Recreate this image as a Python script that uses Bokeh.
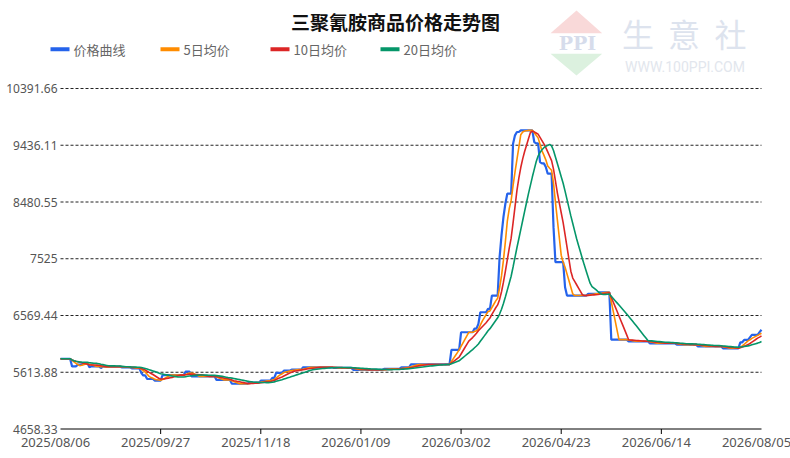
import pandas as pd
from bokeh.plotting import figure
from bokeh.models import Range1d, ColumnDataSource
from bokeh.embed import file_html
from bokeh.resources import INLINE
from bokeh.core.properties import value

# ---------------- data ----------------
title_text = "三聚氰胺商品价格走势图"
start_date = "2025-08-06"
end_date = "2026-08-05"

# price change points (price holds until the next change date)
change_dates = [
    "2025-08-06", "2025-08-12", "2025-08-15", "2025-08-18", "2025-08-21", "2025-08-22",
    "2025-08-27", "2025-08-28", "2025-09-07", "2025-09-12", "2025-09-17", "2025-09-18",
    "2025-09-20", "2025-09-24", "2025-09-28", "2025-10-10", "2025-10-13", "2025-10-26",
    "2025-11-03", "2025-11-12", "2025-11-18", "2025-11-24", "2025-11-26", "2025-11-30",
    "2025-12-04", "2025-12-10", "2025-12-26", "2026-01-05", "2026-01-21", "2026-01-30",
    "2026-02-04", "2026-02-25", "2026-03-02", "2026-03-09", "2026-03-11", "2026-03-12",
    "2026-03-16", "2026-03-18", "2026-03-22", "2026-03-23", "2026-03-24", "2026-03-25",
    "2026-03-26", "2026-03-29", "2026-03-30", "2026-03-31", "2026-04-02", "2026-04-09",
    "2026-04-10", "2026-04-12", "2026-04-13", "2026-04-15", "2026-04-16", "2026-04-19",
    "2026-04-20", "2026-04-25", "2026-04-26", "2026-05-07", "2026-05-13", "2026-05-19",
    "2026-05-28", "2026-06-08", "2026-06-22", "2026-07-03", "2026-07-16", "2026-07-25",
    "2026-07-27", "2026-07-30", "2026-07-31", "2026-08-04", "2026-08-05",
]
change_prices = [
    5840, 5713, 5742, 5767, 5696, 5713,
    5686, 5708, 5696, 5680, 5600, 5560,
    5500, 5472, 5565, 5624, 5545, 5485,
    5420, 5440, 5472, 5520, 5602, 5641,
    5658, 5697, 5686, 5655, 5670, 5697,
    5745, 5990, 6287, 6349, 6428, 6624,
    6681, 6905, 7551, 7917, 8225, 8451,
    8620, 9463, 9603, 9659, 9687, 9490,
    9468, 9153, 9131, 9069, 8957, 8057,
    7467, 7045, 6905, 6934, 6961, 6163,
    6135, 6101, 6079, 6050, 6017, 6118,
    6158, 6202, 6243, 6290, 6330,
]

series_names = ["价格曲线", "5日均价", "10日均价", "20日均价"]
ma_windows = [5, 10, 20]
series_colors = ["#2563eb", "#ff8c00", "#dc2626", "#059669"]

x_tick_labels = ["2025/08/06", "2025/09/27", "2025/11/18", "2026/01/09",
                 "2026/03/02", "2026/04/23", "2026/06/14", "2026/08/05"]
y_ticks = [4658.33, 5613.88, 6569.44, 7525.0, 8480.55, 9436.11, 10391.66]
y_tick_labels = ["4658.33", "5613.88", "6569.44", "7525", "8480.55", "9436.11", "10391.66"]

# ---------------- daily series ----------------
days = pd.date_range(start_date, end_date, freq="D")
price = pd.Series(change_prices, index=pd.to_datetime(change_dates), dtype=float)
price = price.reindex(days).ffill()
src = ColumnDataSource(dict(
    date=days,
    price=price.values,
    ma5=price.rolling(ma_windows[0], min_periods=1).mean().values,
    ma10=price.rolling(ma_windows[1], min_periods=1).mean().values,
    ma20=price.rolling(ma_windows[2], min_periods=1).mean().values,
))


def ms(d):
    return pd.Timestamp(d.replace("/", "-")).value / 1e6


# ---------------- geometry (one canvas, plot area inside it) ----------------
W, H = 790, 458
FL, FR, FT, FB = 60, 761, 88, 428.5          # plot area edges in canvas pixels
t0, t1 = ms(start_date), ms(end_date)
msp = (t1 - t0) / (FR - FL)                   # ms per pixel
upp = (y_ticks[-1] - y_ticks[0]) / (FB - FT)  # price units per pixel


def X(px):
    return t0 + (px - FL) * msp


def Y(py):
    return y_ticks[0] + (FB - py) * upp


FONT = "Noto Sans"
CJK = "Noto Sans CJK SC"

p = figure(width=W, height=H, x_range=Range1d(X(0), X(W)), y_range=Range1d(Y(H), Y(0)),
           x_axis_location=None, y_axis_location=None, min_border=0,
           output_backend="svg", toolbar_location=None)
p.outline_line_color = None
p.grid.visible = False
p.background_fill_color = "white"
p.border_fill_color = "white"

# horizontal dashed grid lines
p.segment(x0=[t0] * (len(y_ticks) - 1), x1=[t1] * (len(y_ticks) - 1),
          y0=y_ticks[1:], y1=y_ticks[1:], line_color="#222222", line_width=1,
          line_dash="3 2")
# y tick labels
p.text(x=[t0] * len(y_ticks), y=y_ticks, text=y_tick_labels, x_offset=-3,
       text_align="right", text_baseline="middle", text_font=value(FONT),
       text_font_size="12px", text_color="#555555")

# x axis line, ticks and labels
tick_ms = [ms(d) for d in x_tick_labels]
p.segment(x0=[t0], x1=[t1], y0=[y_ticks[0]], y1=[y_ticks[0]], line_color="#000000",
          line_width=1)
p.segment(x0=tick_ms[1:-1], x1=tick_ms[1:-1], y0=[y_ticks[0]] * 6,
          y1=[Y(FB + 5)] * 6, line_color="#000000", line_width=1)
p.text(x=tick_ms, y=[Y(441)] * len(tick_ms), text=x_tick_labels, x_offset=-5,
       text_align="center", text_baseline="middle", text_font=value(FONT),
       text_font_size="13px", text_color="#555555")

# series
p.line("date", "price", source=src, color=series_colors[0], line_width=2.2)
p.line("date", "ma5", source=src, color=series_colors[1], line_width=1.6)
p.line("date", "ma10", source=src, color=series_colors[2], line_width=1.6)
p.line("date", "ma20", source=src, color=series_colors[3], line_width=1.6)

# watermark
p.patch([X(550), X(576), X(601.7)], [Y(32.7), Y(10), Y(32.7)], color="#f9d9d9",
        line_color=None)
p.patch([X(550), X(601.7), X(576)], [Y(53.3), Y(53.3), Y(75)], color="#dcf1df",
        line_color=None)
p.text(x=[X(577)], y=[Y(42.5)], text=["PPI"], text_align="center", text_baseline="middle",
       text_font=value("DejaVu Serif"), text_font_style="bold", text_font_size="19px",
       text_color="#d6dceb")
p.text(x=[X(637.5), X(683.5), X(730)], y=[Y(32)] * 3, text=["生", "意", "社"],
       text_align="center", text_baseline="middle", text_font=value(CJK),
       text_font_size="32px", text_color="#dde3ee")
p.text(x=[X(684.5)], y=[Y(66)], text=["WWW.100PPI.COM"], text_align="center",
       text_baseline="middle", text_font=value("Roboto"), text_font_size="14px",
       text_color="#e2e6ed")

# title
p.text(x=[X(395)], y=[Y(20.5)], text=[title_text], text_align="center",
       text_baseline="middle", text_font=value(CJK), text_font_style="bold",
       text_font_size="19px", text_color="#111111")

# legend
leg_px = [50 + 110 * i for i in range(len(series_names))]
leg = ColumnDataSource(dict(
    x=[X(px + 9.5) for px in leg_px],
    tx=[X(px + 23) for px in leg_px],
    y=[Y(48.7)] * len(series_names),
    name=series_names,
    color=series_colors,
))
p.rect(x="x", y="y", width=19 * msp, height=4 * upp, source=leg, fill_color="color",
       line_color=None)
p.text(x="tx", y="y", text="name", source=leg, text_baseline="middle",
       text_font=value(CJK), text_font_size="13px", text_color="#666666")

open("out.html", "w").write(file_html(p, INLINE))
